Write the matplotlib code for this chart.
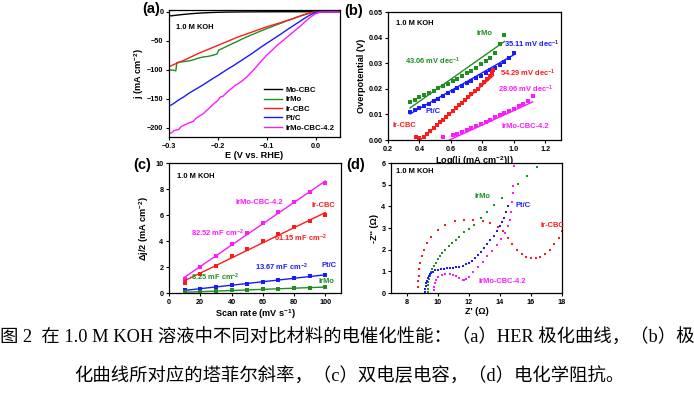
import numpy as np
import matplotlib
matplotlib.use('Agg')
import matplotlib.pyplot as plt

plt.rcParams['font.family'] = ['Liberation Sans', 'DejaVu Sans']
plt.rcParams['font.weight'] = 'bold'
plt.rcParams['mathtext.fontset'] = 'custom'
plt.rcParams['mathtext.rm'] = 'Liberation Sans:bold'
plt.rcParams['mathtext.bf'] = 'Liberation Sans:bold'
plt.rcParams['mathtext.default'] = 'bf'

# värvid
MUST = '#000000'
ROHE = '#1e8f1e'
PUN = '#ff1a1a'
SIN = '#1a1aff'
ROOS = '#ff19ff'

# (a) HER polarisatsioonikõverad
E_a = [-0.30, -0.29, -0.28, -0.27, -0.26, -0.25, -0.24, -0.23, -0.22, -0.21, -0.20, -0.19,
       -0.18, -0.17, -0.16, -0.15, -0.14, -0.13, -0.12, -0.11, -0.10, -0.09, -0.08, -0.07,
       -0.06, -0.05, -0.04, -0.03, -0.02, -0.01, 0.00, 0.01, 0.02, 0.03, 0.04, 0.05]
j_MoCBC = [-7.5, -6.5, -5.5, -4.6, -3.8, -3.1, -2.5, -2.0, -1.6, -1.3, -1.0, -0.8,
           -0.6, -0.5, -0.4, -0.3, -0.25, -0.2, -0.15, -0.1, -0.1, -0.05, -0.05, 0,
           0, 0, 0, 0, 0, 0, 0, 0, 0, 0, 0, 0]
j_IrCBC = [-95, -91, -87.5, -84, -80, -76, -72, -68.5, -65, -61.5, -58, -54.5,
           -51, -47.5, -44, -41, -38, -35, -32, -29, -26, -23.5, -21, -18.5,
           -15.5, -13, -10, -7, -4, -1.5, -0.3, 0, 0, 0, 0, 0]
j_PtC = [-163, -158, -152, -147, -141, -136, -131, -126, -120.5, -115, -110, -104.5,
         -99, -94, -88.5, -83, -77.5, -72, -66, -60, -54.5, -49, -43.5, -38,
         -32, -26.5, -21, -15.5, -10, -5, -1.5, -0.3, 0, 0, 0, 0]
E_IrMo = [-0.300, -0.290, -0.286, -0.284, -0.280, -0.270, -0.260, -0.250, -0.240, -0.230,
          -0.220, -0.210, -0.202, -0.198, -0.190, -0.180, -0.170, -0.160, -0.150, -0.140,
          -0.130, -0.120, -0.110, -0.100, -0.090, -0.080, -0.070, -0.060, -0.050, -0.040,
          -0.030, -0.020, -0.010, 0.000, 0.010, 0.050]
j_IrMo = [-100, -101, -102, -88, -87, -86, -85, -83, -80, -78,
          -77, -75, -73, -66, -63, -59, -55, -51, -47, -43,
          -39.5, -36, -32.5, -29, -26, -22.5, -19.5, -16, -13, -10,
          -7, -4.5, -2, -0.3, 0, 0]
E_IrMoCBC = [-0.300, -0.295, -0.290, -0.280, -0.275, -0.270, -0.260, -0.250, -0.245, -0.240,
             -0.230, -0.220, -0.210, -0.200, -0.195, -0.190, -0.180, -0.170, -0.165, -0.160,
             -0.150, -0.140, -0.130, -0.120, -0.110, -0.100, -0.090, -0.080, -0.070, -0.060,
             -0.050, -0.040, -0.030, -0.020, -0.010, 0.000, 0.010, 0.020, 0.050]
j_IrMoCBC = [-210, -209, -205, -203, -198, -196, -192, -189, -184, -181,
             -176, -168, -160, -153, -147, -146, -138, -131, -127, -125,
             -119, -112, -103, -94, -84, -75, -67, -59, -52, -45,
             -38, -31, -24, -16, -9, -3.5, -0.5, 0, 0]

# (b) Tafeli tõusud
b_IrMo_x = [0.34, 0.37, 0.40, 0.43, 0.46, 0.49, 0.52, 0.55, 0.58, 0.61, 0.64,
            0.67, 0.70, 0.73, 0.76, 0.79, 0.82, 0.85, 0.88, 0.91, 0.94]
b_IrMo_y = [0.0150, 0.0158, 0.0167, 0.0175, 0.0184, 0.0193, 0.0202, 0.0211, 0.0220, 0.0230, 0.0240,
            0.0250, 0.0260, 0.0271, 0.0283, 0.0295, 0.0308, 0.0322, 0.0340, 0.0375, 0.0410]
b_PtC_x = [0.34, 0.37, 0.40, 0.43, 0.46, 0.49, 0.52, 0.55, 0.58, 0.61, 0.64, 0.67,
           0.70, 0.73, 0.76, 0.79, 0.82, 0.85, 0.88, 0.91, 0.94, 0.97, 1.00]
b_PtC_y = [0.0110, 0.0116, 0.0124, 0.0133, 0.0142, 0.0152, 0.0162, 0.0172, 0.0182, 0.0192, 0.0202, 0.0212,
           0.0222, 0.0232, 0.0242, 0.0252, 0.0262, 0.0272, 0.0282, 0.0293, 0.0305, 0.0320, 0.0338]
b_IrCBC_x = [0.38, 0.40, 0.43, 0.45, 0.47, 0.49, 0.51, 0.53, 0.55, 0.57, 0.59, 0.61, 0.63,
             0.65, 0.67, 0.69, 0.71, 0.73, 0.75, 0.77, 0.79, 0.81, 0.83, 0.85, 0.86, 0.87]
b_IrCBC_y = [0.0012, 0.0006, 0.0012, 0.0025, 0.0036, 0.0047, 0.0058, 0.0069, 0.0080, 0.0091, 0.0102, 0.0113, 0.0124,
             0.0135, 0.0146, 0.0157, 0.0168, 0.0179, 0.0190, 0.0201, 0.0213, 0.0225, 0.0238, 0.0252, 0.0262, 0.0272]
b_IrMoCBC_x = [0.55, 0.61, 0.64, 0.67, 0.70, 0.73, 0.76, 0.79, 0.82, 0.85, 0.88, 0.91,
               0.94, 0.97, 1.00, 1.03, 1.06, 1.09, 1.12]
b_IrMoCBC_y = [0.0010, 0.0018, 0.0022, 0.0030, 0.0038, 0.0046, 0.0054, 0.0062, 0.0071, 0.0080, 0.0088, 0.0096,
               0.0105, 0.0113, 0.0122, 0.0131, 0.0140, 0.0152, 0.0170]
# sobitatud sirgete otspunktid
fit_IrMo = ([0.34, 0.94], [0.0125, 0.0385])
fit_PtC = ([0.34, 1.00], [0.0102, 0.0333])
fit_IrCBC = ([0.405, 0.87], [0.0, 0.0252])
fit_IrMoCBC = ([0.59, 1.12], [0.0, 0.0149])

# (c) topeltkihi mahtuvus
scan = [10, 20, 30, 40, 50, 60, 70, 80, 90, 100]
dj_IrMoCBC = [1.10, 2.00, 2.85, 3.74, 4.62, 5.41, 6.20, 7.00, 7.74, 8.49]
dj_IrCBC = [0.77, 1.49, 2.08, 2.82, 3.41, 4.00, 4.51, 5.08, 5.54, 6.00]
dj_PtC = [0.20, 0.33, 0.47, 0.60, 0.73, 0.88, 1.00, 1.12, 1.27, 1.40]
dj_IrMo = [0.06, 0.10, 0.15, 0.20, 0.23, 0.28, 0.32, 0.37, 0.42, 0.46]

# (d) Nyquisti graafik
z_IrCBC_re = [8.75, 8.76, 8.78, 8.82, 8.88, 8.97, 9.10, 9.30, 9.60, 10.00, 10.50, 11.10, 11.70, 12.30,
              12.90, 13.40, 13.90, 14.20, 14.50, 14.80, 15.10, 15.40, 15.70, 16.00, 16.30, 16.60,
              16.90, 17.20, 17.50, 17.80, 18.00]
z_IrCBC_im = [0.30, 0.55, 0.80, 1.10, 1.40, 1.70, 2.00, 2.30, 2.60, 2.90, 3.15, 3.32, 3.38, 3.38,
              3.32, 3.25, 3.05, 2.85, 2.55, 2.25, 2.00, 1.82, 1.68, 1.61, 1.60, 1.66,
              1.80, 2.00, 2.25, 2.55, 2.85]
z_IrMo_re = [9.35, 9.36, 9.38, 9.41, 9.45, 9.50, 9.57, 9.66, 9.76, 9.88, 10.00, 10.15, 10.30, 10.50,
             10.70, 10.90, 11.15, 11.40, 11.70, 12.00, 12.33, 12.80, 13.20, 13.64, 14.16, 15.15,
             15.78, 16.40]
z_IrMo_im = [0.05, 0.20, 0.35, 0.50, 0.65, 0.80, 0.95, 1.10, 1.25, 1.40, 1.55, 1.70, 1.85, 2.00,
             2.15, 2.30, 2.45, 2.60, 2.80, 2.95, 3.13, 3.44, 3.75, 4.06, 4.40, 5.05,
             5.40, 5.80]
z_PtC_re = [9.20, 9.21, 9.23, 9.26, 9.30, 9.35, 9.42, 9.50, 9.60, 9.72, 9.86, 10.02, 10.20, 10.40,
            10.60, 10.80, 11.00, 11.20, 11.40, 11.60, 11.80, 12.00, 12.20, 12.40, 12.60, 12.80,
            13.00, 13.20, 13.40, 13.60, 13.80, 14.00, 14.15, 14.30, 14.42, 14.52]
z_PtC_im = [0.05, 0.18, 0.32, 0.45, 0.57, 0.68, 0.78, 0.86, 0.93, 0.99, 1.04, 1.08, 1.11, 1.13,
            1.15, 1.16, 1.17, 1.19, 1.22, 1.26, 1.32, 1.40, 1.50, 1.62, 1.75, 1.90,
            2.06, 2.25, 2.45, 2.65, 2.88, 3.10, 3.28, 3.48, 3.72, 4.00]
z_IrMoCBC_re = [9.75, 9.77, 9.82, 9.90, 10.05, 10.25, 10.50, 10.80, 11.00, 11.20, 11.40, 11.60,
                11.70, 11.85, 12.00, 12.30, 12.60, 12.90, 13.20, 13.50, 13.80, 14.10, 14.35,
                14.55, 14.67, 14.75, 14.80, 14.84, 14.87, 14.90]
z_IrMoCBC_im = [0.15, 0.30, 0.45, 0.60, 0.72, 0.82, 0.87, 0.88, 0.85, 0.78, 0.68, 0.60,
                0.58, 0.65, 0.75, 0.95, 1.20, 1.45, 1.70, 1.95, 2.20, 2.50, 2.75,
                3.10, 3.35, 3.75, 4.20, 4.60, 4.95, 5.85]

TICK = 5.2
LBL = 6.6
ANN = 5.4

fig = plt.figure(figsize=(6.94, 3.98), dpi=100)

def telg(rect):
    ax = fig.add_axes(rect)
    ax.tick_params(direction='out', length=2.5, width=0.8, labelsize=TICK, pad=1.5)
    for s in ax.spines.values():
        s.set_linewidth(0.9)
    return ax

# --- (a) ---
ax1 = telg([0.2435, 0.6558, 0.2464, 0.3191])
ax1.plot(E_a, j_MoCBC, color=MUST, lw=1, label='Mo-CBC')
ax1.plot(E_IrMo, j_IrMo, color=ROHE, lw=1, label='IrMo')
ax1.plot(E_a, j_IrCBC, color=PUN, lw=1, label='Ir-CBC')
ax1.plot(E_a, j_PtC, color=SIN, lw=1, label='Pt/C')
ax1.plot(E_IrMoCBC, j_IrMoCBC, color=ROOS, lw=1, label='IrMo-CBC-4.2')
ax1.set_xlim(-0.3, 0.05)
ax1.set_ylim(-216, 3)
ax1.set_xticks([-0.3, -0.2, -0.1, 0.0])
ax1.set_yticks([0, -50, -100, -150, -200])
ax1.set_xlabel('E (V vs. RHE)', fontsize=LBL, fontweight='bold', labelpad=1)
ax1.set_ylabel('j (mA cm$^{-2}$)', fontsize=LBL, fontweight='bold', labelpad=1)
ax1.text(-0.285, -27, '1.0 M KOH', fontsize=ANN, fontweight='bold', va='center')
ax1.legend(loc='lower right', frameon=False, fontsize=5.6, handlelength=2.3,
           labelspacing=0.25, borderaxespad=0.3, handletextpad=0.5)

# --- (b) ---
ax2 = telg([0.5591, 0.6482, 0.2493, 0.3216])
for x, y, f, c in [(b_IrMo_x, b_IrMo_y, fit_IrMo, ROHE), (b_PtC_x, b_PtC_y, fit_PtC, SIN),
                   (b_IrCBC_x, b_IrCBC_y, fit_IrCBC, PUN),
                   (b_IrMoCBC_x, b_IrMoCBC_y, fit_IrMoCBC, ROOS)]:
    ax2.plot(x, y, 's', color=c, ms=2.6, mew=0)
    ax2.plot(f[0], f[1], color=c, lw=1)
ax2.set_xlim(0.2, 1.3)
ax2.set_ylim(0, 0.05)
ax2.set_xticks([0.2, 0.4, 0.6, 0.8, 1.0, 1.2])
ax2.set_yticks([0, 0.01, 0.02, 0.03, 0.04, 0.05])
ax2.yaxis.set_major_formatter(plt.FormatStrFormatter('%.2f'))
ax2.xaxis.set_major_formatter(plt.FormatStrFormatter('%.1f'))
ax2.set_xlabel('Log(|j (mA cm$^{-2}$)|)', fontsize=LBL, fontweight='bold', labelpad=1)
ax2.set_ylabel('Overpotential (V)', fontsize=LBL, fontweight='bold', labelpad=2)
ax2.text(0.25, 0.0455, '1.0 M KOH', fontsize=ANN, fontweight='bold', va='center')
ax2.text(0.81, 0.0415, 'IrMo', color=ROHE, fontsize=ANN, fontweight='bold', ha='center', va='center')
ax2.text(0.94, 0.0372, '35.11 mV dec$^{-1}$', color=SIN, fontsize=ANN, fontweight='bold', va='center')
ax2.text(0.31, 0.0308, '43.06 mV dec$^{-1}$', color=ROHE, fontsize=ANN, fontweight='bold', va='center')
ax2.text(0.91, 0.0262, '54.29 mV dec$^{-1}$', color=PUN, fontsize=ANN, fontweight='bold', va='center')
ax2.text(0.90, 0.0199, '28.06 mV dec$^{-1}$', color=ROOS, fontsize=ANN, fontweight='bold', va='center')
ax2.text(0.44, 0.0110, 'Pt/C', color=SIN, fontsize=ANN, fontweight='bold', va='center')
ax2.text(0.23, 0.0056, 'Ir-CBC', color=PUN, fontsize=ANN, fontweight='bold', va='center')
ax2.text(0.92, 0.0052, 'IrMo-CBC-4.2', color=ROOS, fontsize=ANN, fontweight='bold', va='center')

# --- (c) ---
ax3 = telg([0.2435, 0.2638, 0.2478, 0.3266])
for y, c in [(dj_IrMoCBC, ROOS), (dj_IrCBC, PUN), (dj_PtC, SIN), (dj_IrMo, ROHE)]:
    k, b0 = np.polyfit(scan, y, 1)
    xs = np.array([scan[0], scan[-1]])
    ax3.plot(xs, k * xs + b0, color=c, lw=1)
    ax3.plot(scan, y, 's', color=c, ms=2.6, mew=0)
ax3.set_xlim(0, 110)
ax3.set_ylim(0, 10)
ax3.set_xticks([0, 20, 40, 60, 80, 100])
ax3.set_yticks([0, 2, 4, 6, 8, 10])
ax3.set_xlabel('Scan rate (mV s$^{-1}$)', fontsize=LBL, fontweight='bold', labelpad=1)
ax3.set_ylabel('Δj/2 (mA cm$^{-2}$)', fontsize=LBL, fontweight='bold', labelpad=3)
ax3.text(5, 9.0, '1.0 M KOH', fontsize=ANN, fontweight='bold', va='center')
ax3.text(58, 7.0, 'IrMo-CBC-4.2', color=ROOS, fontsize=ANN, fontweight='bold', ha='center', va='center')
ax3.text(98.5, 6.75, 'Ir-CBC', color=PUN, fontsize=ANN, fontweight='bold', ha='center', va='center')
ax3.text(14, 4.6, '82.52 mF cm$^{-2}$', color=ROOS, fontsize=ANN, fontweight='bold', va='center')
ax3.text(67, 4.2, '61.15 mF cm$^{-2}$', color=PUN, fontsize=ANN, fontweight='bold', va='center')
ax3.text(55, 1.95, '13.67 mF cm$^{-2}$', color=SIN, fontsize=ANN, fontweight='bold', va='center')
ax3.text(102.5, 2.1, 'Pt/C', color=SIN, fontsize=ANN, fontweight='bold', ha='center', va='center')
ax3.text(14, 1.23, '8.25 mF cm$^{-2}$', color=ROHE, fontsize=ANN, fontweight='bold', va='center')
ax3.text(101, 0.85, 'IrMo', color=ROHE, fontsize=ANN, fontweight='bold', ha='center', va='center')

# --- (d) ---
ax4 = telg([0.5634, 0.2638, 0.2464, 0.3266])
ax4.plot(z_IrCBC_re, z_IrCBC_im, 's', color=PUN, ms=2.0, mew=0)
ax4.plot(z_IrMo_re, z_IrMo_im, 's', color=ROHE, ms=2.0, mew=0)
ax4.plot(z_PtC_re, z_PtC_im, 's', color=SIN, ms=2.0, mew=0)
ax4.plot(z_IrMoCBC_re, z_IrMoCBC_im, 's', color=ROOS, ms=2.0, mew=0)
ax4.set_xlim(7, 18)
ax4.set_ylim(0, 6)
ax4.set_xticks([8, 10, 12, 14, 16, 18])
ax4.set_yticks([0, 1, 2, 3, 4, 5, 6])
ax4.set_xlabel("Z' (Ω)", fontsize=LBL, fontweight='bold', labelpad=1)
ax4.set_ylabel("-Z'' (Ω)", fontsize=LBL, fontweight='bold', labelpad=2)
ax4.text(7.35, 5.6, '1.0 M KOH', fontsize=ANN, fontweight='bold', va='center')
ax4.text(12.9, 4.45, 'IrMo', color=ROHE, fontsize=ANN, fontweight='bold', ha='center', va='center')
ax4.text(15.0, 4.05, 'Pt/C', color=SIN, fontsize=ANN, fontweight='bold', va='center')
ax4.text(16.6, 3.1, 'Ir-CBC', color=PUN, fontsize=ANN, fontweight='bold', va='center')
ax4.text(12.6, 0.52, 'IrMo-CBC-4.2', color=ROOS, fontsize=ANN, fontweight='bold', va='center')

# paneelide tähised
for x, y, t in [(0.2176, 0.977, '(a)'), (0.509, 0.972, '(b)'), (0.2046, 0.586, '(c)'), (0.512, 0.586, '(d)')]:
    fig.text(x, y, t, fontsize=10.5, fontweight='bold', ha='center', va='center')

# allkiri
cap_font = ['Liberation Serif', 'Noto Sans CJK SC']
fig.text(0.5, 1 - 338 / 398, '图 2  在 1.0 M KOH 溶液中不同对比材料的电催化性能：（a）HER 极化曲线，（b）极',
         fontsize=13.2, family=cap_font, fontweight='normal', ha='center', va='center')
fig.text(349 / 694, 1 - 377 / 398, '化曲线所对应的塔菲尔斜率，（c）双电层电容，（d）电化学阻抗。',
         fontsize=13.2, family=cap_font, fontweight='normal', ha='center', va='center')

fig.savefig('out.png', dpi=100)
